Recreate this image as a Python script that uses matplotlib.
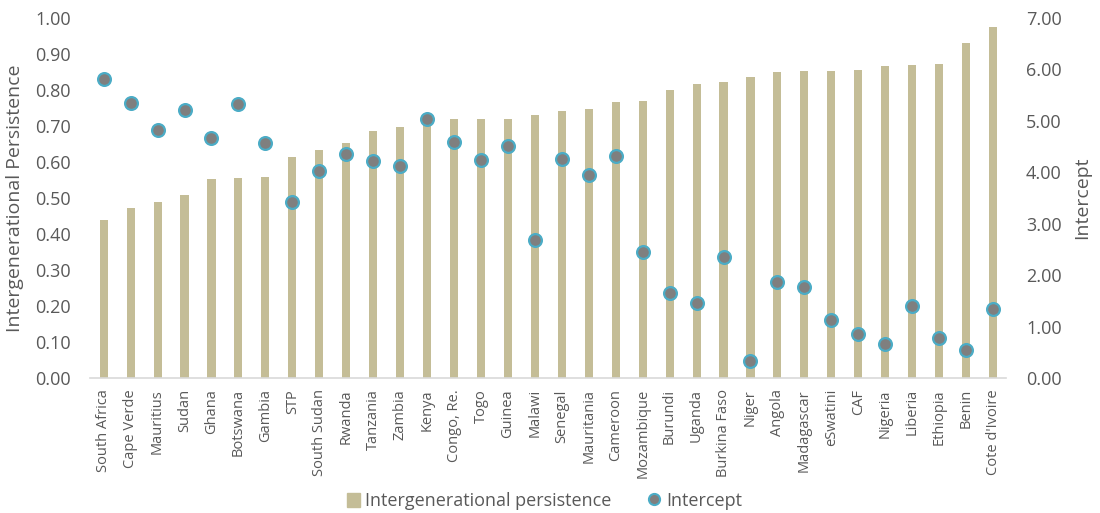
import numpy as np
import matplotlib.pyplot as plt
from matplotlib.lines import Line2D
from matplotlib.patches import Patch

plt.rcParams['font.family'] = ['Open Sans', 'DejaVu Sans']

countries = ['South Africa', 'Cape Verde', 'Mauritius', 'Sudan', 'Ghana', 'Botswana',
             'Gambia', 'STP', 'South Sudan', 'Rwanda', 'Tanzania', 'Zambia', 'Kenya',
             'Congo, Re.', 'Togo', 'Guinea', 'Malawi', 'Senegal', 'Mauritania', 'Cameroon',
             'Mozambique', 'Burundi', 'Uganda', 'Burkina Faso', 'Niger', 'Angola',
             'Madagascar', 'eSwatini', 'CAF', 'Nigeria', 'Liberia', 'Ethiopia', 'Benin',
             "Cote d'Ivoire"]
persistence = [0.439, 0.472, 0.489, 0.508, 0.553, 0.555, 0.559, 0.615, 0.632, 0.652,
               0.686, 0.697, 0.716, 0.719, 0.719, 0.720, 0.731, 0.743, 0.746, 0.766,
               0.770, 0.799, 0.817, 0.823, 0.837, 0.851, 0.853, 0.854, 0.856, 0.867,
               0.870, 0.871, 0.931, 0.974]
intercept = [5.82, 5.35, 4.82, 5.21, 4.67, 5.33, 4.57, 3.42, 4.03, 4.36,
             4.22, 4.12, 5.04, 4.58, 4.23, 4.52, 2.68, 4.26, 3.95, 4.32,
             2.45, 1.65, 1.46, 2.35, 0.33, 1.87, 1.77, 1.13, 0.86, 0.66,
             1.40, 0.78, 0.54, 1.34]

bar_col = '#C4BD97'
txt_col = '#595959'

fig = plt.figure(figsize=(11, 5.13), dpi=100)
ax = fig.add_axes([0.082, 0.263, 0.833, 0.702])
x = np.arange(len(countries))

ax.bar(x, persistence, width=0.3, color=bar_col, zorder=2)
ax.set_ylim(0, 1.0)
ax.set_xlim(-0.5, len(countries) - 0.5)
ax.set_yticks(np.arange(0, 1.01, 0.1))
ax.set_yticklabels(['%.2f' % v for v in np.arange(0, 1.01, 0.1)])
ax.set_xticks(x)
ax.set_xticklabels(countries, rotation=90)

ax2 = ax.twinx()
ax2.scatter(x, intercept, s=85, color='#7F7F7F', edgecolors='#4BACC6', linewidths=1.6, zorder=3)
ax2.set_ylim(0, 7)
ax2.set_yticks(np.arange(0, 7.01, 1))
ax2.set_yticklabels(['%.2f' % v for v in np.arange(0, 7.01, 1)])

for a in (ax, ax2):
    for s in a.spines.values():
        s.set_visible(False)
    a.tick_params(length=0, colors=txt_col, labelsize=13, pad=14)
ax.tick_params(axis='x', labelsize=10.5, pad=8)
ax.spines['bottom'].set_visible(True)
ax.spines['bottom'].set_color('#D9D9D9')
ax.spines['bottom'].set_linewidth(1.2)

# axis titles placed in figure coords to match the reference
fig.text(0.014, 0.614, 'Intergenerational Persistence', rotation=90, ha='center', va='center',
         fontsize=14, color=txt_col)
fig.text(0.984, 0.614, 'Intercept', rotation=90, ha='center', va='center',
         fontsize=14, color=txt_col)

handles = [Patch(color=bar_col, label='Intergenerational persistence'),
           Line2D([], [], marker='o', linestyle='none', markersize=8, markerfacecolor='#7F7F7F',
                  markeredgecolor='#4BACC6', markeredgewidth=1.5, label='Intercept')]
fig.legend(handles=handles, loc='lower center', bbox_to_anchor=(0.495, -0.026), ncol=2,
           frameon=False, fontsize=13, labelcolor=txt_col, handlelength=0.7,
           handleheight=0.8, handletextpad=0.3, columnspacing=2.0)

fig.savefig('out.png', dpi=100)
